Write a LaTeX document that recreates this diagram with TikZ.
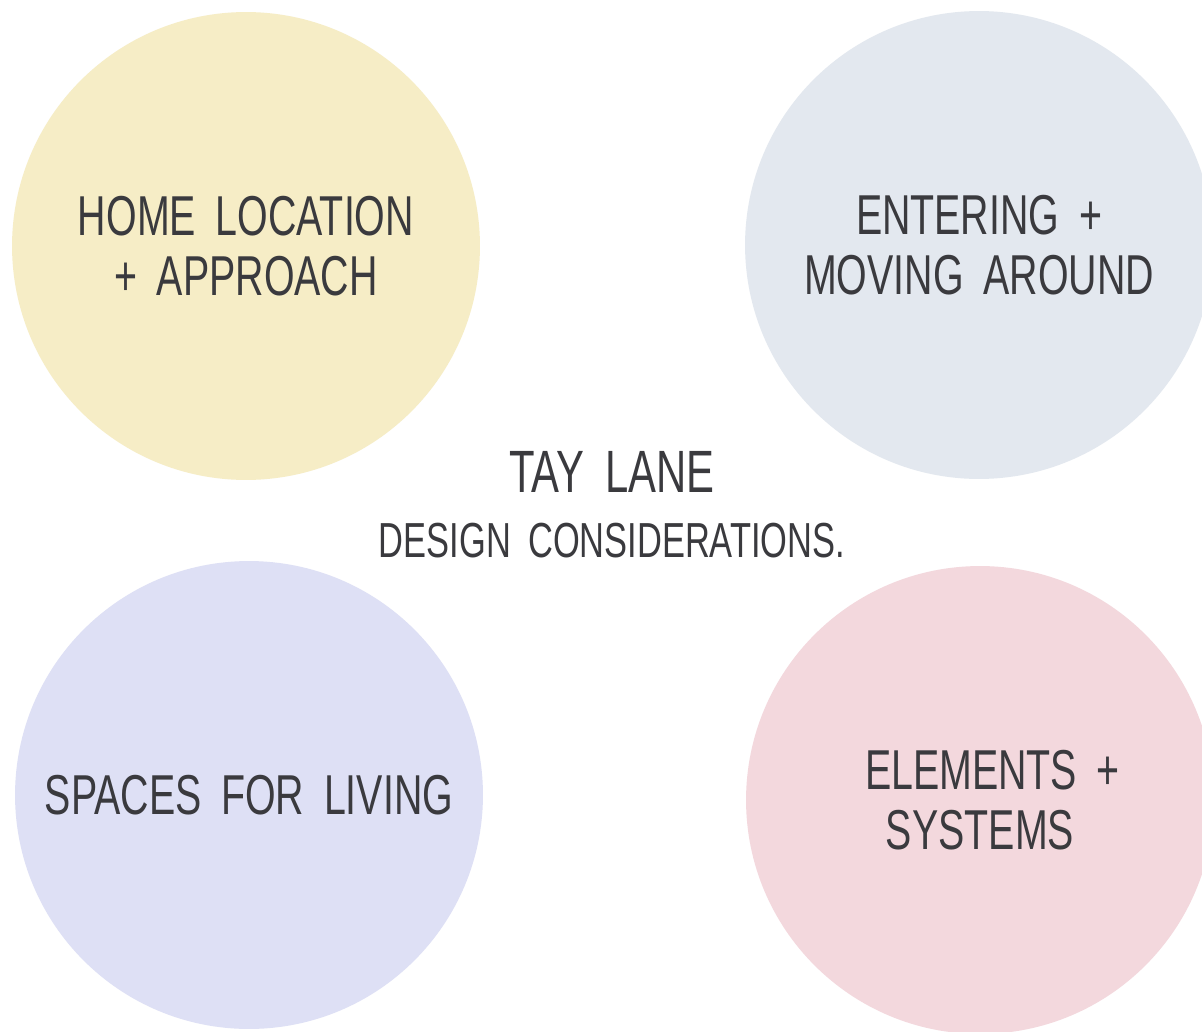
\documentclass[tikz,border=0pt]{standalone}
\usepackage{fontspec}
\newfontfamily\handfont[FakeStretch=0.7, WordSpace=1.8]{Liberation Sans}
\usetikzlibrary{positioning}
\definecolor{locyellow}{RGB}{246,237,198}
\definecolor{entergrey}{RGB}{227,232,239}
\definecolor{livelilac}{RGB}{222,224,245}
\definecolor{elempink}{RGB}{243,216,221}
\definecolor{pencil}{RGB}{58,58,62}
\tikzset{
    topic/.style={circle, fill=#1, minimum size=9.36cm, inner sep=0pt, align=center,
        text=pencil, font=\handfont\fontsize{32}{34}\selectfont},
    heading/.style={text=pencil, inner sep=0pt, font=\handfont\fontsize{#1}{#1}\selectfont},
}

\begin{document}
\begin{tikzpicture}[x=0.02cm, y=-0.02cm] % one unit = one pixel of the sheet
	\clip (0,0) rectangle (1202,1031);
	\fill[white] (0,0) rectangle (1202,1031);
	% the four themes
	\node[topic=locyellow] (home) at (246,246) {HOME LOCATION\\+ APPROACH};
	\node[topic=entergrey] (enter) at (979,245) {ENTERING +\\MOVING AROUND};
	\node[topic=livelilac] (living) at (249,795) {SPACES FOR LIVING};
	\node[topic=elempink] (systems) at (980,800) {\hspace*{0.5cm}ELEMENTS +\\SYSTEMS};
	% title in the middle
	\node[heading=34] (title) at (612,472) {TAY LANE};
	\node[heading=28, below=0.6cm of title] (sub) {DESIGN CONSIDERATIONS.};
\end{tikzpicture}
\end{document}
